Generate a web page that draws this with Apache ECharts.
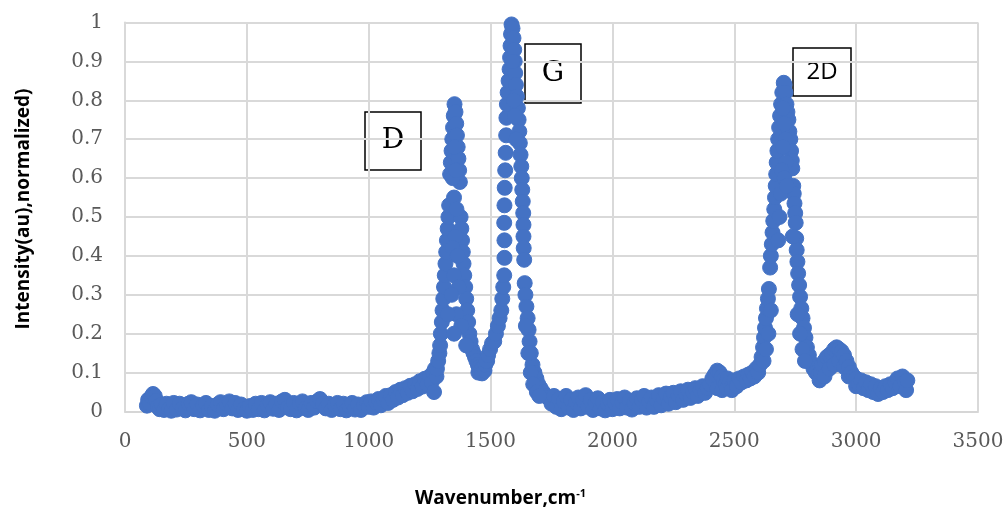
<!DOCTYPE html>
<html>
<head>
<meta charset="utf-8">
<title>Raman spectrum</title>
<script src="https://cdn.jsdelivr.net/npm/echarts@6.0.0/dist/echarts.min.js"></script>
<style>
  html, body { margin: 0; padding: 0; background: #fff; }
  #chart { width: 1007px; height: 512px; }
</style>
</head>
<body>
<div id="chart"></div>
<script>
// [wavenumber, normalized intensity], segment by segment
const baselineLow = [
  [90, 0.015], [95, 0.03], [100, 0.022], [108, 0.038], [115, 0.045], [122, 0.04], [128, 0.028],
  [135, 0.012], [142, 0.006], [150, 0.018], [160, 0.004], [170, 0.02], [180, 0.006], [190, 0.002],
  [200, 0.022], [212, 0.005], [224, 0.02], [236, 0.008], [248, 0.003], [260, 0.02], [272, 0.024],
  [284, 0.006], [296, 0.018], [308, 0.003], [320, 0.016], [332, 0.022], [344, 0.004], [356, 0.014],
  [368, 0.002], [380, 0.018], [392, 0.024], [404, 0.006], [416, 0.02], [428, 0.026], [440, 0.008],
  [452, 0.022], [464, 0.004], [476, 0.018], [488, 0.006], [500, 0.002], [512, 0.014], [524, 0.004],
  [536, 0.02], [548, 0.006], [560, 0.022], [572, 0.003], [584, 0.016], [596, 0.024], [608, 0.007],
  [620, 0.02], [632, 0.004], [644, 0.026], [656, 0.03], [668, 0.01], [680, 0.006], [692, 0.022],
  [704, 0.003], [716, 0.02], [728, 0.026], [740, 0.008], [752, 0.004], [764, 0.022], [776, 0.01],
  [788, 0.026], [800, 0.032], [812, 0.02], [824, 0.008], [836, 0.02], [848, 0.004], [860, 0.016],
  [872, 0.022], [884, 0.006], [896, 0.02], [908, 0.003], [920, 0.014], [932, 0.022], [944, 0.005],
  [956, 0.018], [968, 0.004], [980, 0.016], [992, 0.024]
];
const riseToD = [
  [1000, 0.012], [1010, 0.026], [1020, 0.01], [1030, 0.024], [1040, 0.032], [1050, 0.016],
  [1060, 0.03], [1070, 0.04], [1080, 0.022], [1090, 0.042], [1100, 0.03], [1110, 0.05],
  [1120, 0.036], [1130, 0.056], [1140, 0.042], [1150, 0.06], [1160, 0.048], [1170, 0.066],
  [1180, 0.052], [1190, 0.07], [1200, 0.058], [1210, 0.078], [1220, 0.064], [1230, 0.084],
  [1240, 0.07], [1250, 0.09], [1258, 0.076], [1265, 0.1], [1268, 0.05], [1272, 0.11], [1278, 0.09]
];
const dPeak = [
  [1280, 0.11], [1285, 0.13], [1290, 0.15], [1293, 0.17], [1296, 0.2], [1300, 0.23], [1303, 0.26],
  [1306, 0.29], [1309, 0.32], [1312, 0.35], [1315, 0.38], [1318, 0.41], [1321, 0.44], [1324, 0.47],
  [1327, 0.5], [1330, 0.53], [1334, 0.61], [1337, 0.64], [1340, 0.67], [1343, 0.7], [1346, 0.73],
  [1349, 0.76], [1352, 0.79], [1356, 0.77], [1359, 0.74], [1362, 0.71], [1365, 0.68], [1368, 0.65],
  [1371, 0.62], [1374, 0.59], [1377, 0.5], [1380, 0.47], [1383, 0.44], [1386, 0.41], [1389, 0.38],
  [1392, 0.35], [1396, 0.32], [1400, 0.29], [1404, 0.26], [1408, 0.23], [1413, 0.2], [1418, 0.18],
  [1424, 0.16], [1430, 0.15], [1436, 0.14], [1442, 0.13], [1448, 0.12], [1450, 0.1], [1455, 0.115],
  [1462, 0.11], [1465, 0.098], [1470, 0.115], [1475, 0.105], [1478, 0.12], [1486, 0.13],
  [1345, 0.6], [1352, 0.68], [1358, 0.62], [1350, 0.55], [1360, 0.52], [1355, 0.45],
  [1345, 0.42], [1365, 0.4], [1350, 0.35], [1370, 0.32], [1340, 0.3], [1360, 0.25],
  [1380, 0.22], [1325, 0.25], [1400, 0.17], [1350, 0.2]
];
const gPeak = [
  [1482, 0.13], [1490, 0.145], [1498, 0.16], [1506, 0.175], [1515, 0.18], [1522, 0.2], [1530, 0.22],
  [1537, 0.24], [1544, 0.26], [1548, 0.29], [1552, 0.32], [1556, 0.35], [1557, 0.395], [1557, 0.44],
  [1556, 0.485], [1557, 0.53], [1558, 0.575], [1560, 0.62], [1562, 0.665], [1564, 0.71], [1565, 0.755],
  [1567, 0.79], [1570, 0.82], [1574, 0.85], [1578, 0.88], [1580, 0.91], [1582, 0.94], [1584, 0.97],
  [1586, 0.995], [1590, 0.985], [1594, 0.96], [1597, 0.93], [1599, 0.9], [1601, 0.87], [1604, 0.84],
  [1608, 0.81], [1612, 0.78], [1615, 0.75], [1618, 0.72], [1620, 0.69], [1623, 0.66], [1626, 0.63],
  [1628, 0.6], [1630, 0.57], [1632, 0.54], [1634, 0.51], [1635, 0.48], [1635, 0.45], [1636, 0.42],
  [1638, 0.39], [1640, 0.33], [1643, 0.3], [1647, 0.27], [1652, 0.24], [1656, 0.21], [1660, 0.18],
  [1665, 0.15], [1672, 0.12], [1680, 0.1], [1688, 0.085], [1696, 0.07], [1705, 0.06], [1715, 0.05],
  [1726, 0.04], [1737, 0.035], [1748, 0.03],
  [1590, 0.9], [1595, 0.8], [1600, 0.76], [1605, 0.7], [1645, 0.22], [1655, 0.15], [1665, 0.1],
  [1675, 0.07], [1690, 0.05], [1700, 0.04]
];
const midBase = [
  [1750, 0.02], [1760, 0.04], [1770, 0.012], [1780, 0.032], [1790, 0.006], [1800, 0.026],
  [1810, 0.04], [1820, 0.01], [1830, 0.03], [1840, 0.004], [1850, 0.024], [1860, 0.036],
  [1870, 0.008], [1880, 0.028], [1890, 0.042], [1900, 0.012], [1910, 0.03], [1920, 0.004],
  [1930, 0.022], [1940, 0.034], [1950, 0.008], [1960, 0.024], [1970, 0.003], [1980, 0.02],
  [1990, 0.03], [2000, 0.006], [2010, 0.022], [2020, 0.032], [2030, 0.008], [2040, 0.024],
  [2050, 0.036], [2060, 0.01], [2070, 0.028], [2080, 0.005], [2090, 0.022], [2100, 0.034],
  [2110, 0.012], [2120, 0.03], [2130, 0.04], [2140, 0.01], [2150, 0.026], [2160, 0.036],
  [2170, 0.012], [2180, 0.03], [2190, 0.042], [2200, 0.016], [2210, 0.034], [2220, 0.046],
  [2230, 0.02], [2240, 0.038], [2250, 0.048], [2260, 0.024], [2270, 0.042], [2280, 0.052],
  [2290, 0.03], [2300, 0.046], [2310, 0.056], [2320, 0.035], [2330, 0.05], [2340, 0.06],
  [2350, 0.04], [2360, 0.055], [2370, 0.065], [2380, 0.048], [2390, 0.06], [2400, 0.07],
  [2410, 0.085], [2420, 0.095], [2430, 0.105], [2430, 0.06], [2440, 0.1], [2448, 0.09],
  [2450, 0.055], [2456, 0.08], [2464, 0.07], [2470, 0.06], [2472, 0.085], [2480, 0.075],
  [2490, 0.065], [2490, 0.055], [2500, 0.08], [2510, 0.07], [2510, 0.065], [2520, 0.085],
  [2530, 0.075], [2540, 0.09], [2550, 0.08], [2558, 0.095], [2566, 0.085], [2574, 0.1],
  [2582, 0.09], [2590, 0.11], [2598, 0.1]
];
const twoDPeak = [
  [2605, 0.12], [2612, 0.14], [2618, 0.165], [2622, 0.19], [2626, 0.215], [2630, 0.24],
  [2634, 0.265], [2638, 0.29], [2642, 0.315], [2647, 0.37], [2650, 0.4], [2654, 0.43],
  [2657, 0.46], [2660, 0.49], [2664, 0.52], [2667, 0.55], [2670, 0.58], [2672, 0.61],
  [2674, 0.64], [2677, 0.67], [2680, 0.7], [2684, 0.73], [2688, 0.76], [2692, 0.79],
  [2697, 0.82], [2703, 0.845], [2706, 0.84], [2710, 0.82], [2714, 0.79], [2718, 0.77],
  [2722, 0.75], [2726, 0.72], [2730, 0.7], [2733, 0.67], [2736, 0.645], [2738, 0.625],
  [2742, 0.58], [2744, 0.56], [2747, 0.535], [2750, 0.51], [2752, 0.485], [2754, 0.445],
  [2756, 0.415], [2759, 0.385], [2762, 0.355], [2766, 0.325], [2770, 0.295], [2775, 0.265],
  [2780, 0.24], [2786, 0.215], [2792, 0.19], [2798, 0.165], [2806, 0.145], [2815, 0.125],
  [2825, 0.11], [2835, 0.1], [2845, 0.095], [2850, 0.08],
  [2700, 0.78], [2705, 0.74], [2710, 0.7], [2700, 0.68], [2712, 0.64], [2695, 0.62],
  [2705, 0.6], [2690, 0.56], [2715, 0.58], [2685, 0.5], [2740, 0.45], [2680, 0.44],
  [2760, 0.25], [2770, 0.2], [2780, 0.16], [2790, 0.13], [2640, 0.2], [2650, 0.26],
  [2620, 0.13], [2630, 0.16]
];
const shoulderTail = [
  [2855, 0.1], [2860, 0.12], [2870, 0.13], [2870, 0.09], [2880, 0.14], [2890, 0.145],
  [2890, 0.11], [2900, 0.15], [2910, 0.16], [2910, 0.12], [2920, 0.165], [2930, 0.16],
  [2930, 0.13], [2940, 0.155], [2950, 0.145], [2950, 0.115], [2960, 0.13], [2970, 0.115],
  [2970, 0.09], [2980, 0.1], [2990, 0.09], [3000, 0.085], [3000, 0.065], [3010, 0.07],
  [3020, 0.08], [3030, 0.06], [3040, 0.075], [3050, 0.055], [3060, 0.07], [3070, 0.05],
  [3080, 0.065], [3090, 0.045], [3100, 0.06], [3110, 0.05], [3120, 0.065], [3130, 0.055],
  [3140, 0.07], [3150, 0.06], [3160, 0.075], [3170, 0.085], [3180, 0.065], [3190, 0.09],
  [3200, 0.075], [3205, 0.055], [3210, 0.08]
];

const xTicks = { min: 0, max: 3500, interval: 500 };
const yTicks = { min: 0, max: 1, interval: 0.1 };

const spectrum = [].concat(baselineLow, riseToD, dPeak, gPeak, midBase, twoDPeak, shoulderTail);

function labelBox(x, y, w, h, text, font) {
  return {
    type: 'group',
    x: x,
    y: y,
    z: 100,
    children: [
      { type: 'rect', shape: { x: 0, y: 0, width: w, height: h },
        style: { fill: '#fff', stroke: '#000', lineWidth: 1.5 } },
      { type: 'text', x: w / 2, y: h / 2,
        style: { text: text, font: font, fill: '#000', align: 'center', verticalAlign: 'middle' } }
    ]
  };
}

var myChart = echarts.init(document.getElementById('chart'));
myChart.setOption({
  animation: false,
  backgroundColor: '#fff',
  grid: { left: 125, right: 29, top: 22.5, bottom: 100.5, containLabel: false },
  title: {
    text: '{a|Wavenumber,cm}{s|-1}',
    left: 410,
    top: 483,
    textStyle: {
      rich: {
        a: { fontFamily: 'Open Sans', fontWeight: 'bold', fontSize: 19, color: '#000', lineHeight: 22 },
        s: { fontFamily: 'Open Sans', fontWeight: 'bold', fontSize: 11, color: '#000', verticalAlign: 'top', lineHeight: 22 }
      }
    }
  },
  xAxis: {
    type: 'value',
    min: xTicks.min,
    max: xTicks.max,
    interval: xTicks.interval,
    axisLine: { show: true, lineStyle: { color: '#d6d6d6', width: 2 } },
    axisTick: { show: false },
    axisLabel: {
      margin: 20, color: '#595959', fontFamily: 'DejaVu Serif', fontSize: 20,
      formatter: function (v) { return String(v); }
    },
    splitLine: { show: true, lineStyle: { color: '#d9d9d9', width: 2 } }
  },
  yAxis: {
    type: 'value',
    min: yTicks.min,
    max: yTicks.max,
    interval: yTicks.interval,
    axisLine: { show: true, lineStyle: { color: '#d9d9d9', width: 2 } },
    axisTick: { show: false },
    axisLabel: { margin: 22, color: '#595959', fontFamily: 'DejaVu Serif', fontSize: 20 },
    splitLine: { show: true, lineStyle: { color: '#d9d9d9', width: 2 } }
  },
  graphic: [
    {
      type: 'text',
      x: 24,
      y: 209,
      rotation: Math.PI / 2,
      style: {
        text: 'Intensity(au),normalized)',
        font: 'bold 19px "Open Sans"',
        fill: '#000',
        align: 'center',
        verticalAlign: 'middle'
      }
    },
    labelBox(365, 112, 56, 58, 'D', '28px "DejaVu Serif"'),
    labelBox(525, 44, 56, 59, 'G', '28px "DejaVu Serif"'),
    labelBox(793, 48, 58, 48, '2D', '24px "Open Sans"')
  ],
  series: [
    {
      type: 'scatter',
      data: spectrum,
      symbol: 'circle',
      symbolSize: 15,
      itemStyle: { color: '#4472C4', opacity: 1, borderColor: '#4472C4', borderWidth: 1 },
      emphasis: { disabled: true },
      z: 2
    }
  ]
});
</script>
</body>
</html>
